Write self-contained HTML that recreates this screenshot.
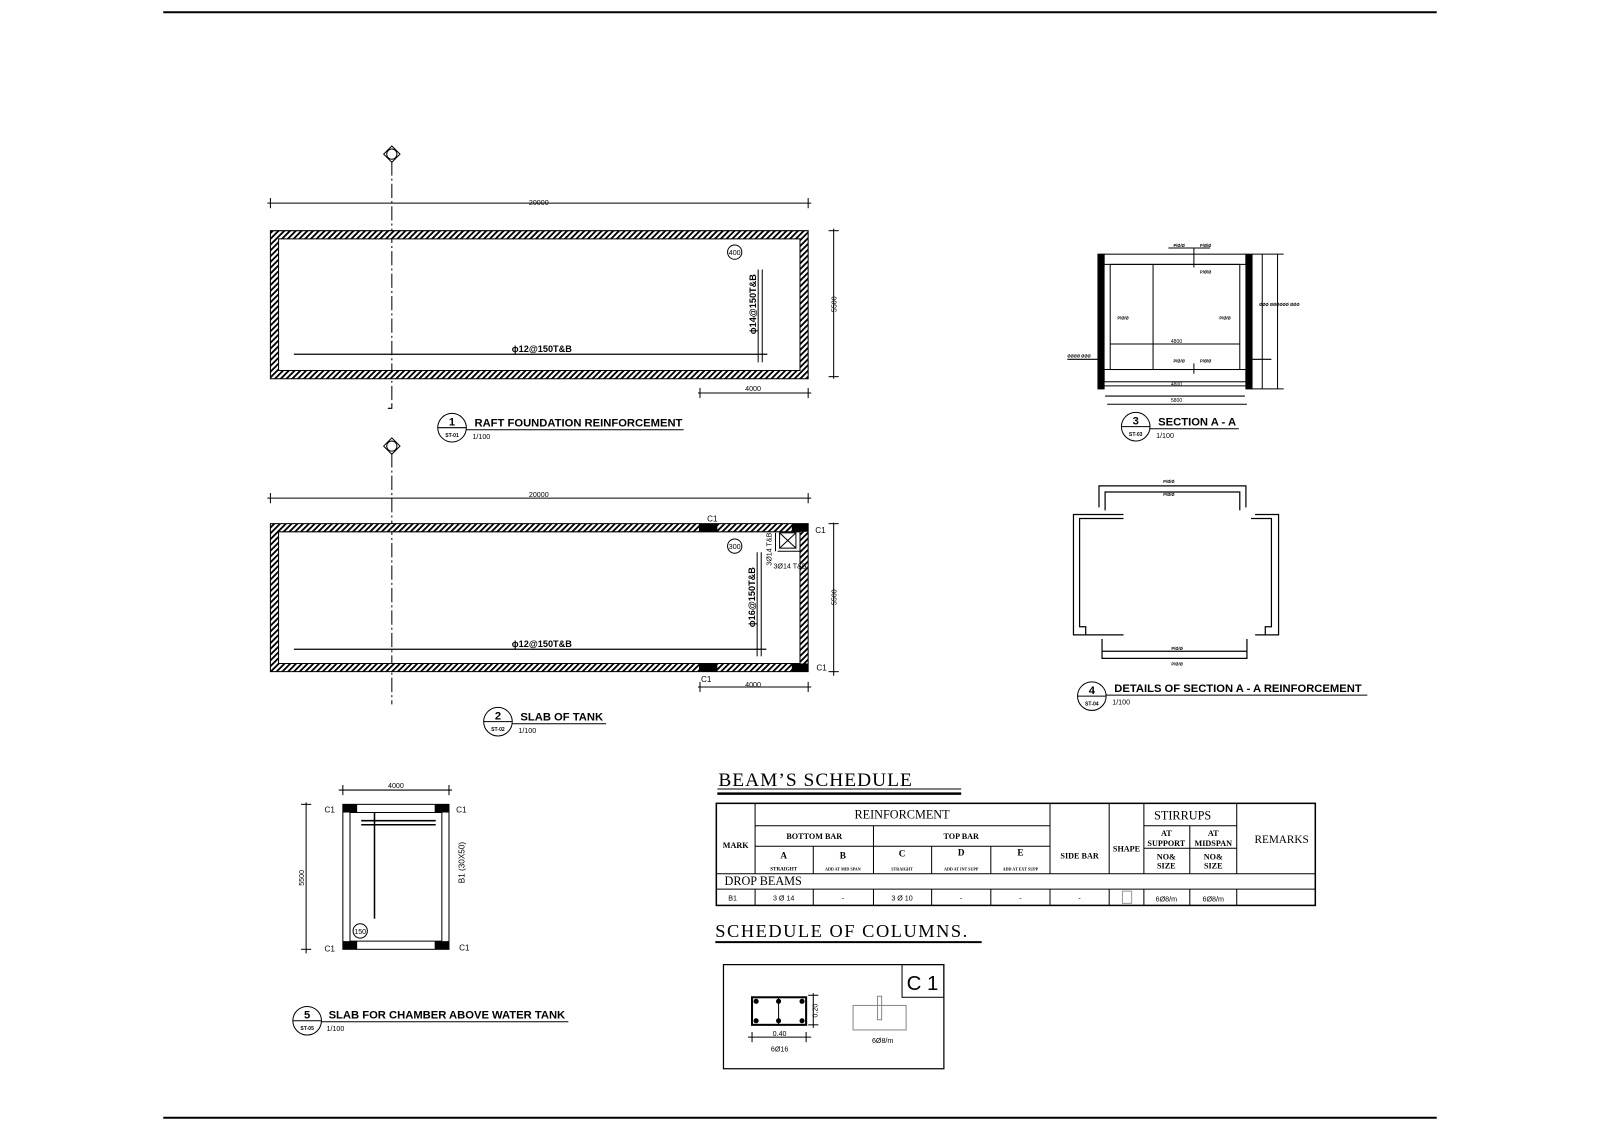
<!DOCTYPE html>
<html><head><meta charset="utf-8"><style>
html,body{margin:0;padding:0;background:#fff;}
svg{display:block;}
text{font-family:"Liberation Sans",sans-serif;fill:#000;}
.s, .s text{font-family:"Liberation Serif",serif;}
.b{font-weight:bold;}
</style></head><body>
<svg width="1600" height="1131" viewBox="0 0 1568 1108" preserveAspectRatio="none" xmlns="http://www.w3.org/2000/svg">
<defs>
<pattern id="h" width="4" height="4" patternUnits="userSpaceOnUse" patternTransform="rotate(45)">
<rect width="4" height="4" fill="#fff"/><rect width="1.8" height="4" fill="#000"/>
</pattern>
</defs>
<rect width="1568" height="1108" fill="#fff"/>
<line x1="160" y1="12" x2="1408" y2="12" stroke="#000" stroke-width="2"/>
<line x1="160" y1="1095" x2="1408" y2="1095" stroke="#000" stroke-width="2"/>

<g stroke="#000" fill="none" stroke-width="1">
<line x1="384" y1="158" x2="384" y2="400" stroke-dasharray="14,3,2,3"/>
<polyline points="380,400 384,400 384,396"/>
<line x1="384" y1="444" x2="384" y2="690" stroke-dasharray="14,3,2,3"/>
<path d="M384,143 L392,151 L384,159 L376,151Z"/>
<circle cx="384" cy="151" r="5"/>
<path d="M384,429 L392,437 L384,445 L376,437Z"/>
<circle cx="384" cy="437" r="5"/>
</g>

<!-- Plan 1 -->
<g>
<path d="M265,226H792V371H265Z M273,234V363H784V234Z" fill="url(#h)" fill-rule="evenodd" stroke="#000"/>
<g stroke="#000" fill="none">
<line x1="262" y1="199" x2="795" y2="199"/><line x1="265" y1="194" x2="265" y2="204"/><line x1="792" y1="194" x2="792" y2="204"/>
<line x1="817" y1="224" x2="817" y2="371"/><line x1="812" y1="226" x2="822" y2="226"/><line x1="812" y1="369" x2="822" y2="369"/>
<line x1="684" y1="385" x2="795" y2="385"/><line x1="686" y1="380" x2="686" y2="390"/><line x1="792" y1="380" x2="792" y2="390"/>
<line x1="288" y1="347" x2="752" y2="347" stroke-width="1.2"/>
<line x1="743" y1="264" x2="743" y2="355"/><line x1="747" y1="264" x2="747" y2="355"/>
<circle cx="720" cy="247" r="7"/>
</g>
<text x="528" y="201" font-size="7" text-anchor="middle">20000</text>
<text x="820" y="298" font-size="7" transform="rotate(-90 820 298)" text-anchor="middle">5500</text>
<text x="738" y="383" font-size="7" text-anchor="middle">4000</text>
<text x="720" y="250" font-size="7" text-anchor="middle">400</text>
<text x="531" y="345" font-size="9" class="b" text-anchor="middle">ϕ12@150T&amp;B</text>
<text x="741" y="298" font-size="9" class="b" transform="rotate(-90 741 298)" text-anchor="middle">ϕ14@150T&amp;B</text>
<circle cx="443" cy="419" r="14" fill="none" stroke="#000"/><line x1="429" y1="419" x2="457" y2="419" stroke="#000"/>
<text x="443" y="417" font-size="11" class="b" text-anchor="middle">1</text>
<text x="443" y="428" font-size="5" class="b" text-anchor="middle">ST-01</text>
<text x="465" y="418" font-size="11" class="b">RAFT FOUNDATION REINFORCEMENT</text>
<line x1="457" y1="421" x2="670" y2="421" stroke="#000"/>
<text x="463" y="430" font-size="7">1/100</text>
</g>

<!-- Plan 2 -->
<g>
<path d="M265,513H792V658H265Z M273,521V650H784V521Z" fill="url(#h)" fill-rule="evenodd" stroke="#000"/>
<rect x="685" y="513" width="18" height="8"/><rect x="776" y="513" width="16" height="8"/>
<rect x="685" y="650" width="18" height="8"/><rect x="776" y="650" width="16" height="8"/>
<g stroke="#000" fill="none">
<line x1="262" y1="488" x2="795" y2="488"/><line x1="265" y1="483" x2="265" y2="493"/><line x1="792" y1="483" x2="792" y2="493"/>
<line x1="817" y1="512" x2="817" y2="662"/><line x1="812" y1="513" x2="822" y2="513"/><line x1="812" y1="658" x2="822" y2="658"/>
<line x1="684" y1="673" x2="795" y2="673"/><line x1="686" y1="668" x2="686" y2="678"/><line x1="792" y1="668" x2="792" y2="678"/>
<line x1="288" y1="636" x2="751" y2="636" stroke-width="1.2"/>
<line x1="742" y1="541" x2="742" y2="643"/><line x1="746" y1="541" x2="746" y2="643"/>
<rect x="764" y="522" width="16" height="15"/><line x1="764" y1="522" x2="780" y2="537"/><line x1="780" y1="522" x2="764" y2="537"/>
<line x1="760" y1="522" x2="760" y2="540"/><line x1="762" y1="540" x2="784" y2="540"/>
<circle cx="720" cy="535" r="7"/>
</g>
<text x="528" y="487" font-size="7" text-anchor="middle">20000</text>
<text x="820" y="585" font-size="7" transform="rotate(-90 820 585)" text-anchor="middle">5500</text>
<text x="738" y="673" font-size="7" text-anchor="middle">4000</text>
<text x="720" y="538" font-size="7" text-anchor="middle">300</text>
<text x="693" y="511" font-size="8">C1</text><text x="799" y="522" font-size="8">C1</text>
<text x="687" y="668" font-size="8">C1</text><text x="800" y="657" font-size="8">C1</text>
<text x="531" y="634" font-size="9" class="b" text-anchor="middle">ϕ12@150T&amp;B</text>
<text x="740" y="585" font-size="9" class="b" transform="rotate(-90 740 585)" text-anchor="middle">ϕ16@150T&amp;B</text>
<text x="756" y="538" font-size="7" transform="rotate(-90 756 538)" text-anchor="middle">3Ø14 T&amp;B</text>
<text x="758" y="557" font-size="7">3Ø14 T&amp;B</text>
<circle cx="488" cy="707" r="14" fill="none" stroke="#000"/><line x1="474" y1="707" x2="502" y2="707" stroke="#000"/>
<text x="488" y="705" font-size="11" class="b" text-anchor="middle">2</text>
<text x="488" y="716" font-size="5" class="b" text-anchor="middle">ST-02</text>
<text x="510" y="706" font-size="11" class="b">SLAB OF TANK</text>
<line x1="502" y1="709" x2="594" y2="709" stroke="#000"/>
<text x="508" y="718" font-size="7">1/100</text>
</g>

<!-- Section A-A -->
<g stroke="#000" fill="none">
<rect x="1076" y="249" width="6" height="132" fill="#000"/>
<rect x="1221" y="249" width="6" height="132" fill="#000"/>
<rect x="1082" y="249" width="139" height="10"/>
<rect x="1082" y="362" width="139" height="12"/>
<rect x="1088" y="259" width="127" height="103"/>
<line x1="1130" y1="259" x2="1130" y2="362"/>
<line x1="1088" y1="337" x2="1215" y2="337"/>
<line x1="1076" y1="378" x2="1227" y2="378"/>
<line x1="1083" y1="388" x2="1220" y2="388"/>
<line x1="1085" y1="396" x2="1222" y2="396"/>
<line x1="1237" y1="249" x2="1237" y2="381"/>
<line x1="1252" y1="249" x2="1252" y2="381"/>
<line x1="1227" y1="249" x2="1258" y2="249"/>
<line x1="1227" y1="381" x2="1258" y2="381"/>
<line x1="1046" y1="352" x2="1076" y2="352"/><line x1="1227" y1="352" x2="1246" y2="352"/>
<line x1="1170" y1="243" x2="1170" y2="262"/><line x1="1145" y1="243" x2="1170" y2="243"/><line x1="1170" y1="243" x2="1186" y2="243"/>
<line x1="1170" y1="356" x2="1170" y2="366"/>
</g>
<g font-size="4" class="b">
<text x="1150" y="242">P/Ø/Ø</text><text x="1176" y="242">P/Ø/Ø</text><text x="1176" y="268">P/Ø/Ø</text>
<text x="1150" y="355">P/Ø/Ø</text><text x="1176" y="355">P/Ø/Ø</text>
<text x="1095" y="313">P/Ø/Ø</text><text x="1195" y="313">P/Ø/Ø</text>
<text x="1234" y="300">ØØØ ØØØØØØ ØØØ</text><text x="1046" y="350">ØØØØ ØØØ</text>
</g>
<text x="1153" y="336" font-size="5" text-anchor="middle">4800</text>
<text x="1153" y="378" font-size="5" text-anchor="middle">4800</text>
<text x="1153" y="394" font-size="5" text-anchor="middle">5800</text>
<circle cx="1113" cy="418" r="14" fill="none" stroke="#000"/><line x1="1099" y1="418" x2="1127" y2="418" stroke="#000"/>
<text x="1113" y="416" font-size="11" class="b" text-anchor="middle">3</text>
<text x="1113" y="427" font-size="5" class="b" text-anchor="middle">ST-03</text>
<text x="1135" y="417" font-size="11" class="b">SECTION A - A</text>
<line x1="1127" y1="420" x2="1214" y2="420" stroke="#000"/>
<text x="1133" y="429" font-size="7">1/100</text>

<!-- Details 4 -->
<g stroke="#000" fill="none" stroke-width="1.2">
<polyline points="1077,497 1077,476 1221,476 1221,497"/>
<polyline points="1083,500 1083,482 1215,482 1215,500"/>
<polyline points="1080,626 1080,645 1222,645 1222,626"/>
<polyline points="1080,638 1222,638"/>
<polyline points="1101,504 1052,504 1052,622 1101,622"/>
<polyline points="1101,508 1058,508 1058,614 1064,614 1064,622"/>
<polyline points="1230,504 1253,504 1253,622 1230,622"/>
<polyline points="1226,508 1246,508 1246,614 1240,614 1240,622"/>
</g>
<g font-size="4" class="b"><text x="1140" y="473">P/Ø/Ø</text><text x="1140" y="486">P/Ø/Ø</text><text x="1148" y="637">P/Ø/Ø</text><text x="1148" y="652">P/Ø/Ø</text></g>
<circle cx="1070" cy="682" r="14" fill="none" stroke="#000"/><line x1="1056" y1="682" x2="1084" y2="682" stroke="#000"/>
<text x="1070" y="680" font-size="11" class="b" text-anchor="middle">4</text>
<text x="1070" y="691" font-size="5" class="b" text-anchor="middle">ST-04</text>
<text x="1092" y="678" font-size="11" class="b">DETAILS OF SECTION A - A REINFORCEMENT</text>
<line x1="1084" y1="681" x2="1340" y2="681" stroke="#000"/>
<text x="1090" y="690" font-size="7">1/100</text>

<!-- Slab 5 -->
<g stroke="#000" fill="none">
<rect x="336" y="788" width="104" height="142"/>
<line x1="343" y1="796" x2="433" y2="796"/><line x1="343" y1="922" x2="433" y2="922"/>
<line x1="343" y1="796" x2="343" y2="922"/><line x1="433" y1="796" x2="433" y2="922"/>
<line x1="332" y1="774" x2="443" y2="774"/><line x1="336" y1="769" x2="336" y2="779"/><line x1="440" y1="769" x2="440" y2="779"/>
<line x1="300" y1="786" x2="300" y2="934"/><line x1="295" y1="788" x2="305" y2="788"/><line x1="295" y1="930" x2="305" y2="930"/>
<line x1="354" y1="804" x2="427" y2="804" stroke-width="1.5"/><line x1="354" y1="808" x2="427" y2="808" stroke-width="1.5"/>
<line x1="367" y1="796" x2="367" y2="900" stroke-width="1.5"/>
<circle cx="353" cy="912" r="7"/>
</g>
<rect x="336" y="788" width="14" height="8"/><rect x="426" y="788" width="14" height="8"/>
<rect x="336" y="922" width="14" height="8"/><rect x="426" y="922" width="14" height="8"/>
<text x="388" y="772" font-size="7" text-anchor="middle">4000</text>
<text x="298" y="860" font-size="7" transform="rotate(-90 298 860)" text-anchor="middle">5500</text>
<text x="353" y="915" font-size="7" text-anchor="middle">150</text>
<text x="318" y="796" font-size="8">C1</text><text x="447" y="796" font-size="8">C1</text>
<text x="318" y="932" font-size="8">C1</text><text x="450" y="931" font-size="8">C1</text>
<text x="455" y="845" font-size="8" transform="rotate(-90 455 845)" text-anchor="middle">B1 (30X50)</text>
<circle cx="301" cy="1000" r="14" fill="none" stroke="#000"/><line x1="287" y1="1000" x2="315" y2="1000" stroke="#000"/>
<text x="301" y="998" font-size="11" class="b" text-anchor="middle">5</text>
<text x="301" y="1009" font-size="5" class="b" text-anchor="middle">ST-05</text>
<text x="322" y="998" font-size="11" class="b">SLAB FOR CHAMBER ABOVE WATER TANK</text>
<line x1="315" y1="1001" x2="557" y2="1001" stroke="#000"/>
<text x="320" y="1010" font-size="7">1/100</text>

<!-- Beam schedule -->
<g class="s"><text x="704" y="770" font-size="19" letter-spacing="1">BEAM’S  SCHEDULE</text></g>
<line x1="703" y1="773" x2="942" y2="773" stroke="#000"/>
<line x1="703" y1="777.5" x2="942" y2="777.5" stroke="#000" stroke-width="2.5"/>
<g stroke="#000" fill="none" stroke-width="1">
<rect x="702" y="787" width="587" height="100" stroke-width="1.5"/>
<line x1="740" y1="787" x2="740" y2="856"/>
<line x1="740" y1="809" x2="1029" y2="809"/>
<line x1="740" y1="829" x2="1029" y2="829"/>
<line x1="856" y1="809" x2="856" y2="856"/>
<line x1="797" y1="829" x2="797" y2="856"/>
<line x1="913" y1="829" x2="913" y2="856"/>
<line x1="971" y1="829" x2="971" y2="856"/>
<line x1="1029" y1="787" x2="1029" y2="856"/>
<line x1="1087" y1="787" x2="1087" y2="856"/>
<line x1="1121" y1="787" x2="1121" y2="856"/>
<line x1="1212" y1="787" x2="1212" y2="856"/>
<line x1="1166" y1="809" x2="1166" y2="856"/>
<line x1="1121" y1="809" x2="1212" y2="809"/>
<line x1="1121" y1="831" x2="1212" y2="831"/>
<line x1="702" y1="856" x2="1289" y2="856"/>
<line x1="702" y1="871" x2="1289" y2="871"/>
<line x1="740" y1="871" x2="740" y2="887"/><line x1="797" y1="871" x2="797" y2="887"/><line x1="856" y1="871" x2="856" y2="887"/>
<line x1="913" y1="871" x2="913" y2="887"/><line x1="971" y1="871" x2="971" y2="887"/><line x1="1029" y1="871" x2="1029" y2="887"/>
<line x1="1087" y1="871" x2="1087" y2="887"/><line x1="1121" y1="871" x2="1121" y2="887"/><line x1="1166" y1="871" x2="1166" y2="887"/>
<line x1="1212" y1="871" x2="1212" y2="887"/>
<rect x="1100" y="873" width="9" height="12" stroke="#999"/>
</g>
<g class="s">
<text x="884" y="802" font-size="12" text-anchor="middle">REINFORCMENT</text>
<text x="798" y="822" font-size="8" class="b" text-anchor="middle">BOTTOM  BAR</text>
<text x="942" y="822" font-size="8" class="b" text-anchor="middle">TOP  BAR</text>
<text x="721" y="831" font-size="8" class="b" text-anchor="middle">MARK</text>
<text x="768" y="841" font-size="9" class="b" text-anchor="middle">A</text>
<text x="826" y="841" font-size="9" class="b" text-anchor="middle">B</text>
<text x="884" y="839" font-size="9" class="b" text-anchor="middle">C</text>
<text x="942" y="838" font-size="9" class="b" text-anchor="middle">D</text>
<text x="1000" y="838" font-size="9" class="b" text-anchor="middle">E</text>
<text x="768" y="853" font-size="5" class="b" text-anchor="middle">STRAIGHT</text>
<text x="826" y="853" font-size="4" class="b" text-anchor="middle">ADD AT MID SPAN</text>
<text x="884" y="853" font-size="4" class="b" text-anchor="middle">STRAIGHT</text>
<text x="942" y="853" font-size="4" class="b" text-anchor="middle">ADD AT INT SUPP</text>
<text x="1000" y="853" font-size="4" class="b" text-anchor="middle">ADD AT EXT SUPP</text>
<text x="1058" y="841" font-size="8" class="b" text-anchor="middle">SIDE  BAR</text>
<text x="1104" y="834" font-size="8" class="b" text-anchor="middle">SHAPE</text>
<text x="1159" y="803" font-size="12" text-anchor="middle">STIRRUPS</text>
<text x="1143" y="819" font-size="8" class="b" text-anchor="middle">AT</text>
<text x="1143" y="829" font-size="8" class="b" text-anchor="middle">SUPPORT</text>
<text x="1189" y="819" font-size="8" class="b" text-anchor="middle">AT</text>
<text x="1189" y="829" font-size="8" class="b" text-anchor="middle">MIDSPAN</text>
<text x="1143" y="842" font-size="8" class="b" text-anchor="middle">NO&amp;</text>
<text x="1143" y="851" font-size="8" class="b" text-anchor="middle">SIZE</text>
<text x="1189" y="842" font-size="8" class="b" text-anchor="middle">NO&amp;</text>
<text x="1189" y="851" font-size="8" class="b" text-anchor="middle">SIZE</text>
<text x="1256" y="826" font-size="11" text-anchor="middle">REMARKS</text>
<text x="710" y="867" font-size="12">DROP  BEAMS</text>
</g>
<g font-size="7" text-anchor="middle">
<text x="718" y="882">B1</text><text x="768" y="882">3 Ø 14</text><text x="826" y="882">-</text>
<text x="884" y="882">3 Ø 10</text><text x="942" y="882">-</text><text x="1000" y="882">-</text><text x="1058" y="882">-</text>
<text x="1143" y="883">6Ø8/m</text><text x="1189" y="883">6Ø8/m</text>
</g>

<!-- Columns schedule -->
<g class="s"><text x="701" y="918" font-size="18" letter-spacing="1.5">SCHEDULE  OF  COLUMNS.</text></g>
<line x1="701" y1="923" x2="962" y2="923" stroke="#000" stroke-width="2"/>
<g stroke="#000" fill="none">
<rect x="709" y="945" width="216" height="102" stroke-width="1.2"/>
<rect x="884" y="945" width="41" height="32"/>
<rect x="737" y="977" width="53" height="27" stroke-width="2"/>
<line x1="763" y1="977" x2="763" y2="1004"/>
<line x1="797" y1="973" x2="797" y2="1007"/><line x1="792" y1="975" x2="802" y2="975"/><line x1="792" y1="1004" x2="802" y2="1004"/>
<line x1="733" y1="1016" x2="795" y2="1016"/><line x1="737" y1="1011" x2="737" y2="1021"/><line x1="790" y1="1011" x2="790" y2="1021"/>
<rect x="836" y="985" width="52" height="24" stroke="#888"/>
<rect x="860" y="976" width="4" height="23" stroke="#888"/>
</g>
<g fill="#000"><circle cx="741" cy="981" r="2.5"/><circle cx="763" cy="981" r="2.5"/><circle cx="786" cy="981" r="2.5"/>
<circle cx="741" cy="1000" r="2.5"/><circle cx="763" cy="1000" r="2.5"/><circle cx="786" cy="1000" r="2.5"/></g>
<text x="904" y="970" font-size="20" text-anchor="middle">C 1</text>
<text x="764" y="1015" font-size="7" text-anchor="middle">0.40</text>
<text x="764" y="1030" font-size="7" text-anchor="middle">6Ø16</text>
<text x="801" y="990" font-size="7" transform="rotate(-90 801 990)" text-anchor="middle">0.20</text>
<text x="865" y="1022" font-size="7" text-anchor="middle">6Ø8/m</text>
</svg>
</body></html>
